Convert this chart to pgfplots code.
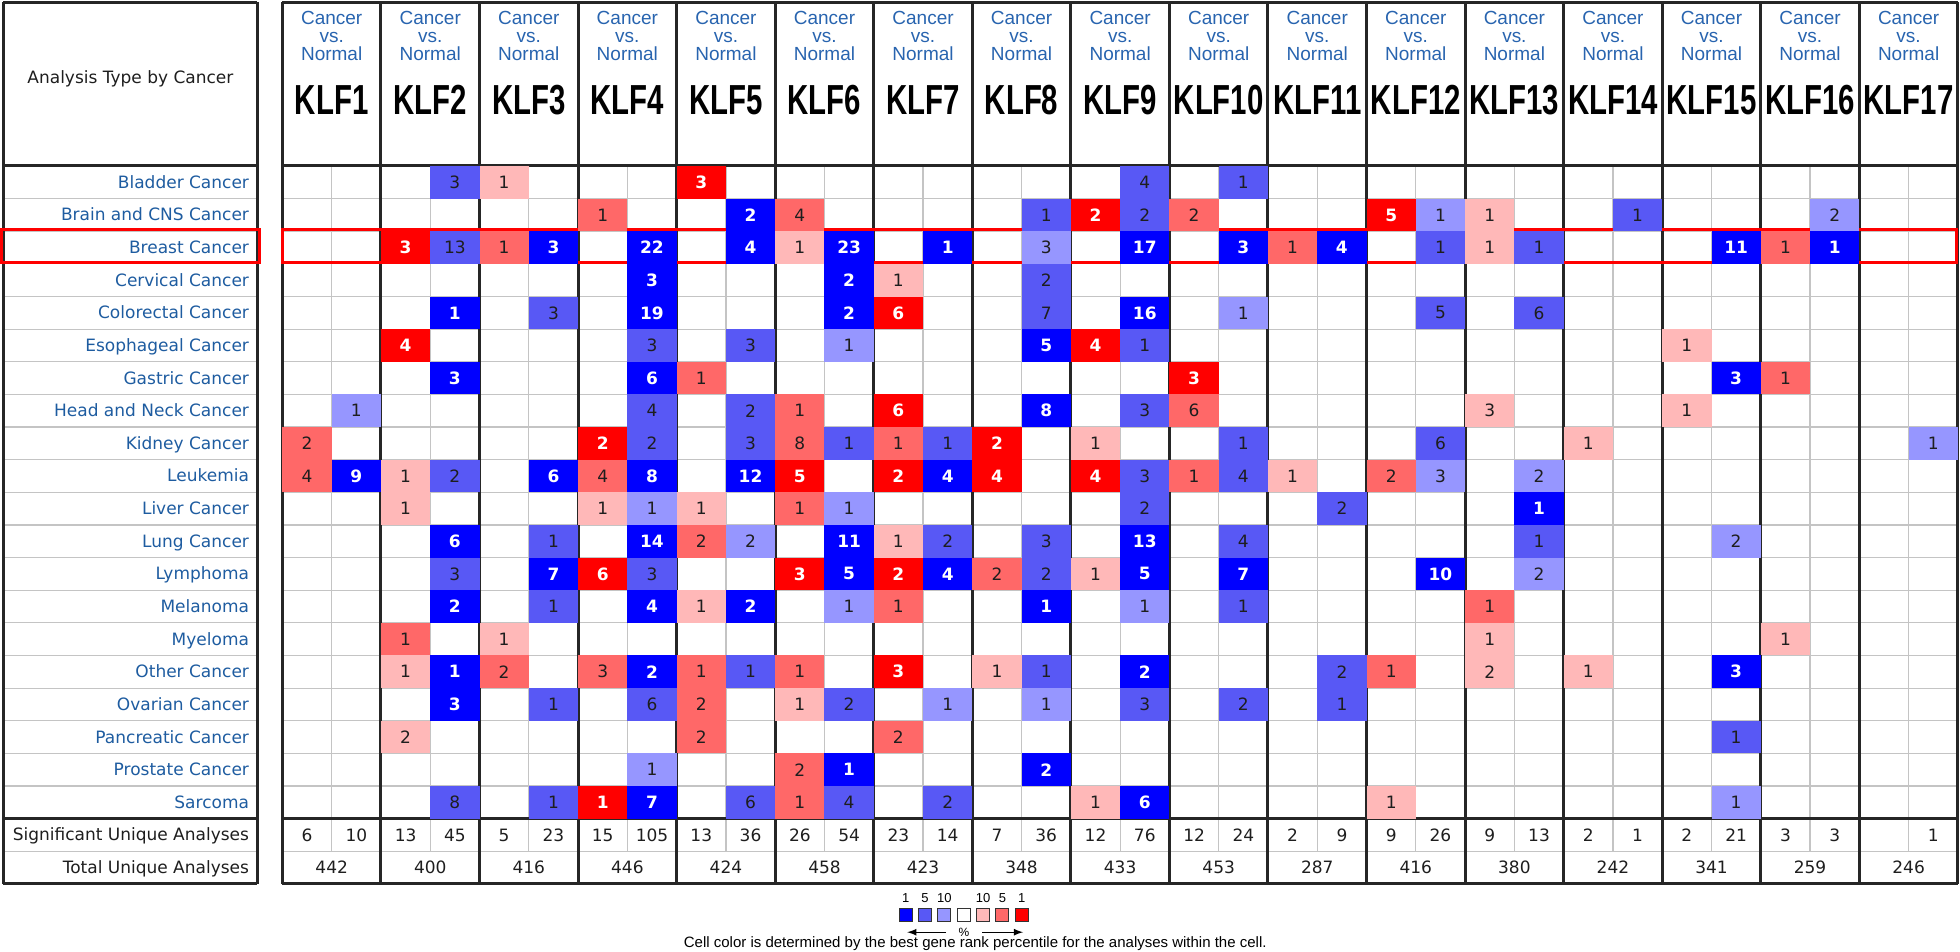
\documentclass[border=0pt]{standalone}
\usepackage{pgfplots}
\pgfplotsset{compat=1.18}
\usepackage{pgfplotstable}
\usepackage{graphicx}
\usepackage{fontspec}
\setmainfont{DejaVu Sans}
\newfontfamily\fdj{DejaVu Sans}
\newfontfamily\flib{Liberation Sans}
\newfontfamily\fklf[FakeStretch=0.7]{Liberation Sans}

\definecolor{cBa}{RGB}{0,0,255}
\definecolor{cBb}{RGB}{88,88,245}
\definecolor{cBc}{RGB}{150,150,255}
\definecolor{cRa}{RGB}{255,0,0}
\definecolor{cRb}{RGB}{255,104,104}
\definecolor{cRc}{RGB}{255,184,184}
\definecolor{labblue}{RGB}{30,92,160}
\definecolor{hdrblue}{RGB}{40,100,175}
\definecolor{gridgray}{RGB}{196,196,196}
\definecolor{bord}{RGB}{38,38,38}
\definecolor{txt}{RGB}{30,30,30}

\pgfdeclareplotmark{cellsq}{\pgfpathrectangle{\pgfqpoint{-12.3225pt}{-8.16pt}}{\pgfqpoint{24.645pt}{16.32pt}}\pgfusepathqfill}
\pgfdeclareplotmark{legsq}{\pgfpathrectangle{\pgfqpoint{-3.25pt}{-3.25pt}}{\pgfqpoint{6.5pt}{6.5pt}}\pgfusepathqfillstroke}

% dark blue (best 1%)
\pgfplotstableread{
c r v
1 9 9
3 4 1
3 6 3
3 11 6
3 13 2
3 15 1
3 16 3
5 2 3
5 9 6
5 12 7
7 2 22
7 3 3
7 4 19
7 6 6
7 9 8
7 11 14
7 13 4
7 15 2
7 19 7
9 1 2
9 2 4
9 9 12
9 13 2
11 2 23
11 3 2
11 4 2
11 11 11
11 12 5
11 18 1
13 2 1
13 9 4
13 12 4
15 5 5
15 7 8
15 13 1
15 18 2
17 2 17
17 4 16
17 11 13
17 12 5
17 15 2
17 19 6
19 2 3
19 12 7
21 2 4
23 12 10
25 10 1
29 2 11
29 6 3
29 15 3
31 2 1
}\tBa
% medium blue (5%)
\pgfplotstableread{
c r v
3 0 3
3 2 13
3 9 2
3 12 3
3 19 8
5 4 3
5 11 1
5 13 1
5 16 1
5 19 1
7 5 3
7 7 4
7 8 2
7 12 3
7 16 6
9 5 3
9 7 2
9 8 3
9 15 1
9 19 6
11 8 1
11 16 2
11 19 4
13 8 1
13 11 2
13 19 2
15 1 1
15 3 2
15 4 7
15 11 3
15 12 2
15 15 1
17 0 4
17 1 2
17 5 1
17 7 3
17 9 3
17 10 2
17 16 3
19 0 1
19 8 1
19 9 4
19 11 4
19 13 1
19 16 2
21 10 2
21 15 2
21 16 1
23 2 1
23 4 5
23 8 6
25 2 1
25 4 6
25 11 1
27 1 1
29 17 1
}\tBb
% light blue (10%)
\pgfplotstableread{
c r v
1 7 1
7 10 1
7 18 1
9 11 2
11 5 1
11 10 1
11 13 1
13 16 1
15 2 3
15 16 1
17 13 1
19 4 1
23 1 1
23 9 3
25 9 2
25 12 2
29 11 2
29 19 1
31 1 2
33 8 1
}\tBc
% dark red (1%)
\pgfplotstableread{
c r v
2 2 3
2 5 4
6 8 2
6 12 6
6 19 1
8 0 3
10 9 5
10 12 3
12 4 6
12 7 6
12 9 2
12 12 2
12 15 3
14 8 2
14 9 4
16 1 2
16 5 4
16 9 4
18 6 3
22 1 5
}\tRa
% medium red (5%)
\pgfplotstableread{
c r v
0 8 2
0 9 4
2 14 1
4 2 1
4 15 2
6 1 1
6 9 4
6 15 3
8 6 1
8 11 2
8 15 1
8 16 2
8 17 2
10 1 4
10 7 1
10 8 8
10 10 1
10 15 1
10 18 2
10 19 1
12 8 1
12 13 1
12 17 2
14 12 2
18 1 2
18 7 6
18 9 1
20 2 1
22 9 2
22 15 1
24 13 1
30 2 1
30 6 1
}\tRb
% light red (10%)
\pgfplotstableread{
c r v
2 9 1
2 10 1
2 15 1
2 17 2
4 0 1
4 14 1
6 10 1
8 10 1
8 13 1
10 2 1
10 16 1
12 3 1
12 11 1
14 15 1
16 8 1
16 12 1
16 19 1
20 9 1
22 19 1
24 1 1
24 2 1
24 7 3
24 14 1
24 15 2
26 8 1
26 15 1
28 5 1
28 7 1
30 14 1
}\tRc
% significant unique analyses
\pgfplotstableread{
c v
0 6
1 10
2 13
3 45
4 5
5 23
6 15
7 105
8 13
9 36
10 26
11 54
12 23
13 14
14 7
15 36
16 12
17 76
18 12
19 24
20 2
21 9
22 9
23 26
24 9
25 13
26 2
27 1
28 2
29 21
30 3
31 3
33 1
}\tSig
% total unique analyses
\pgfplotstableread{
x v
1 442
3 400
5 416
7 446
9 424
11 458
13 423
15 348
17 433
19 453
21 287
23 416
25 380
27 242
29 341
31 259
33 246
}\tTot
\pgfplotstableread{
x lab
1 KLF1
3 KLF2
5 KLF3
7 KLF4
9 KLF5
11 KLF6
13 KLF7
15 KLF8
17 KLF9
19 KLF10
21 KLF11
23 KLF12
25 KLF13
27 KLF14
29 KLF15
31 KLF16
33 KLF17
}\tGenes

\newcommand{\cellfont}{\fdj\fontsize{8.5}{10}\selectfont}
\newcommand{\cellfontb}{\fdj\bfseries\fontsize{8.5}{10}\selectfont}

\tikzset{
  lab/.style={anchor=base east, font=\cellfont, text=labblue, inner sep=0pt},
  gridline/.style={draw=gridgray, line width=0.6pt},
  thickb/.style={draw=bord, line width=1.5pt},
  hdr/.style={anchor=base, font=\flib\fontsize{9.5}{11}\selectfont, text=hdrblue, inner sep=0pt},
}
\pgfplotsset{
  cellplot/.style n args={3}{only marks, mark=cellsq, color=#1,
    mark options={fill=#1, draw=none},
    nodes near coords, nodes near coords align={center},
    every node near coord/.append style={anchor=center, text=#2, font=#3, inner sep=0pt}},
  textplot/.style n args={2}{draw=none, mark=none, only marks,
    nodes near coords, nodes near coords align={center},
    every node near coord/.append style={anchor=center, text=#1, font=#2, inner sep=0pt}},
}

\begin{document}
\begin{tikzpicture}
\begin{axis}[
  x=24.645pt, y=16.32pt, y dir=reverse,
  xmin=-5.721, xmax=34.043, ymin=-5.086, ymax=24.081,
  hide axis, clip=false,
  point meta=explicit symbolic,
]
\path (rel axis cs:0,0) rectangle (rel axis cs:1,1);

% cells
\addplot[cellplot={cBa}{white}{\cellfontb}] table[x expr=\thisrow{c}+0.5, y expr=\thisrow{r}+0.5, meta=v]{\tBa};
\addplot[cellplot={cBb}{txt}{\cellfont}] table[x expr=\thisrow{c}+0.5, y expr=\thisrow{r}+0.5, meta=v]{\tBb};
\addplot[cellplot={cBc}{txt}{\cellfont}] table[x expr=\thisrow{c}+0.5, y expr=\thisrow{r}+0.5, meta=v]{\tBc};
\addplot[cellplot={cRa}{white}{\cellfontb}] table[x expr=\thisrow{c}+0.5, y expr=\thisrow{r}+0.5, meta=v]{\tRa};
\addplot[cellplot={cRb}{txt}{\cellfont}] table[x expr=\thisrow{c}+0.5, y expr=\thisrow{r}+0.5, meta=v]{\tRb};
\addplot[cellplot={cRc}{txt}{\cellfont}] table[x expr=\thisrow{c}+0.5, y expr=\thisrow{r}+0.5, meta=v]{\tRc};

% summary rows
\addplot[textplot={txt}{\cellfont}] table[x expr=\thisrow{c}+0.5, y expr=20.5, meta=v]{\tSig};
\addplot[textplot={txt}{\cellfont}] table[x=x, y expr=21.5, meta=v]{\tTot};
% gene names
\addplot[textplot={black}{\fklf\bfseries\fontsize{21}{24}\selectfont}] table[x=x, y expr=-2.022, meta=lab]{\tGenes};

% thin grid
\pgfplotsinvokeforeach{1,...,19,21}{
  \draw[gridline] (axis cs:-5.66,#1) -- (axis cs:-0.507,#1);
  \draw[gridline] (axis cs:0,#1) -- (axis cs:34,#1);
}
\pgfplotsinvokeforeach{1,3,...,33}{
  \draw[gridline] (axis cs:#1,0) -- (axis cs:#1,21);
}
% thick borders
\pgfplotsinvokeforeach{0,2,...,34}{
  \draw[thickb] (axis cs:#1,-5.024) -- (axis cs:#1,22);
}
\pgfplotsinvokeforeach{-5.024,0,20,22}{
  \draw[thickb] (axis cs:0,#1) -- (axis cs:34,#1);
  \draw[thickb] (axis cs:-5.66,#1) -- (axis cs:-0.507,#1);
}
\draw[thickb] (axis cs:-5.66,-5.024) -- (axis cs:-5.66,22);
\draw[thickb] (axis cs:-0.507,-5.024) -- (axis cs:-0.507,22);

% header texts
\pgfplotsinvokeforeach{1,3,...,33}{
  \node[hdr] at (axis cs:#1,-4.341) {Cancer};
  \node[hdr] at (axis cs:#1,-3.79) {vs.};
  \node[hdr] at (axis cs:#1,-3.24) {Normal};
}
\node[anchor=base, font=\cellfont, text=txt, inner sep=0pt] at (axis cs:-3.084,-2.52) {Analysis Type by Cancer};

% row labels
\node[lab] at (axis cs:-0.67,0.684) {Bladder Cancer};
\node[lab] at (axis cs:-0.67,1.684) {Brain and CNS Cancer};
\node[lab] at (axis cs:-0.67,2.684) {Breast Cancer};
\node[lab] at (axis cs:-0.67,3.684) {Cervical Cancer};
\node[lab] at (axis cs:-0.67,4.684) {Colorectal Cancer};
\node[lab] at (axis cs:-0.67,5.684) {Esophageal Cancer};
\node[lab] at (axis cs:-0.67,6.684) {Gastric Cancer};
\node[lab] at (axis cs:-0.67,7.684) {Head and Neck Cancer};
\node[lab] at (axis cs:-0.67,8.684) {Kidney Cancer};
\node[lab] at (axis cs:-0.67,9.684) {Leukemia};
\node[lab] at (axis cs:-0.67,10.684) {Liver Cancer};
\node[lab] at (axis cs:-0.67,11.684) {Lung Cancer};
\node[lab] at (axis cs:-0.67,12.684) {Lymphoma};
\node[lab] at (axis cs:-0.67,13.684) {Melanoma};
\node[lab] at (axis cs:-0.67,14.684) {Myeloma};
\node[lab] at (axis cs:-0.67,15.684) {Other Cancer};
\node[lab] at (axis cs:-0.67,16.684) {Ovarian Cancer};
\node[lab] at (axis cs:-0.67,17.684) {Pancreatic Cancer};
\node[lab] at (axis cs:-0.67,18.684) {Prostate Cancer};
\node[lab] at (axis cs:-0.67,19.684) {Sarcoma};
\node[lab, text=txt] at (axis cs:-0.67,20.684) {Significant Unique Analyses};
\node[lab, text=txt] at (axis cs:-0.67,21.684) {Total Unique Analyses};

% highlight of breast cancer row
\draw[red, line width=1.5pt] (axis cs:-5.70,1.95) rectangle (axis cs:-0.467,2.97);
\draw[red, line width=1.5pt] (axis cs:0,1.95) rectangle (axis cs:33.98,2.97);

% colour key
\addplot[only marks, mark=legsq, mark options={fill=cBa, draw=black!80, line width=0.5pt}] coordinates {(12.650,22.962)};
\addplot[only marks, mark=legsq, mark options={fill=cBb, draw=black!80, line width=0.5pt}] coordinates {(13.042,22.962)};
\addplot[only marks, mark=legsq, mark options={fill=cBc, draw=black!80, line width=0.5pt}] coordinates {(13.434,22.962)};
\addplot[only marks, mark=legsq, mark options={fill=white, draw=black!80, line width=0.5pt}] coordinates {(13.826,22.962)};
\addplot[only marks, mark=legsq, mark options={fill=cRc, draw=black!80, line width=0.5pt}] coordinates {(14.219,22.962)};
\addplot[only marks, mark=legsq, mark options={fill=cRb, draw=black!80, line width=0.5pt}] coordinates {(14.611,22.962)};
\addplot[only marks, mark=legsq, mark options={fill=cRa, draw=black!80, line width=0.5pt}] coordinates {(15.003,22.962)};
\begin{scope}[every node/.style={anchor=base, font=\flib\fontsize{6.5}{7}\selectfont, inner sep=0pt}]
\node at (axis cs:12.650,22.56) {1};
\node at (axis cs:13.042,22.56) {5};
\node at (axis cs:13.434,22.56) {10};
\node at (axis cs:14.219,22.56) {10};
\node at (axis cs:14.611,22.56) {5};
\node at (axis cs:15.003,22.56) {1};
\end{scope}
\draw[-latex, line width=0.6pt] (axis cs:13.47,23.48) -- (axis cs:12.68,23.48);
\draw[-latex, line width=0.6pt] (axis cs:14.20,23.48) -- (axis cs:15.03,23.48);
\node[anchor=center, font=\flib\fontsize{6}{7}\selectfont, inner sep=0pt] at (axis cs:13.83,23.48) {\%};
\node[anchor=base, font=\flib\fontsize{7.5}{9}\selectfont, inner sep=0pt] at (axis cs:14.06,23.96) {Cell color is determined by the best gene rank percentile for the analyses within the cell.};
\end{axis}
\end{tikzpicture}
\end{document}
